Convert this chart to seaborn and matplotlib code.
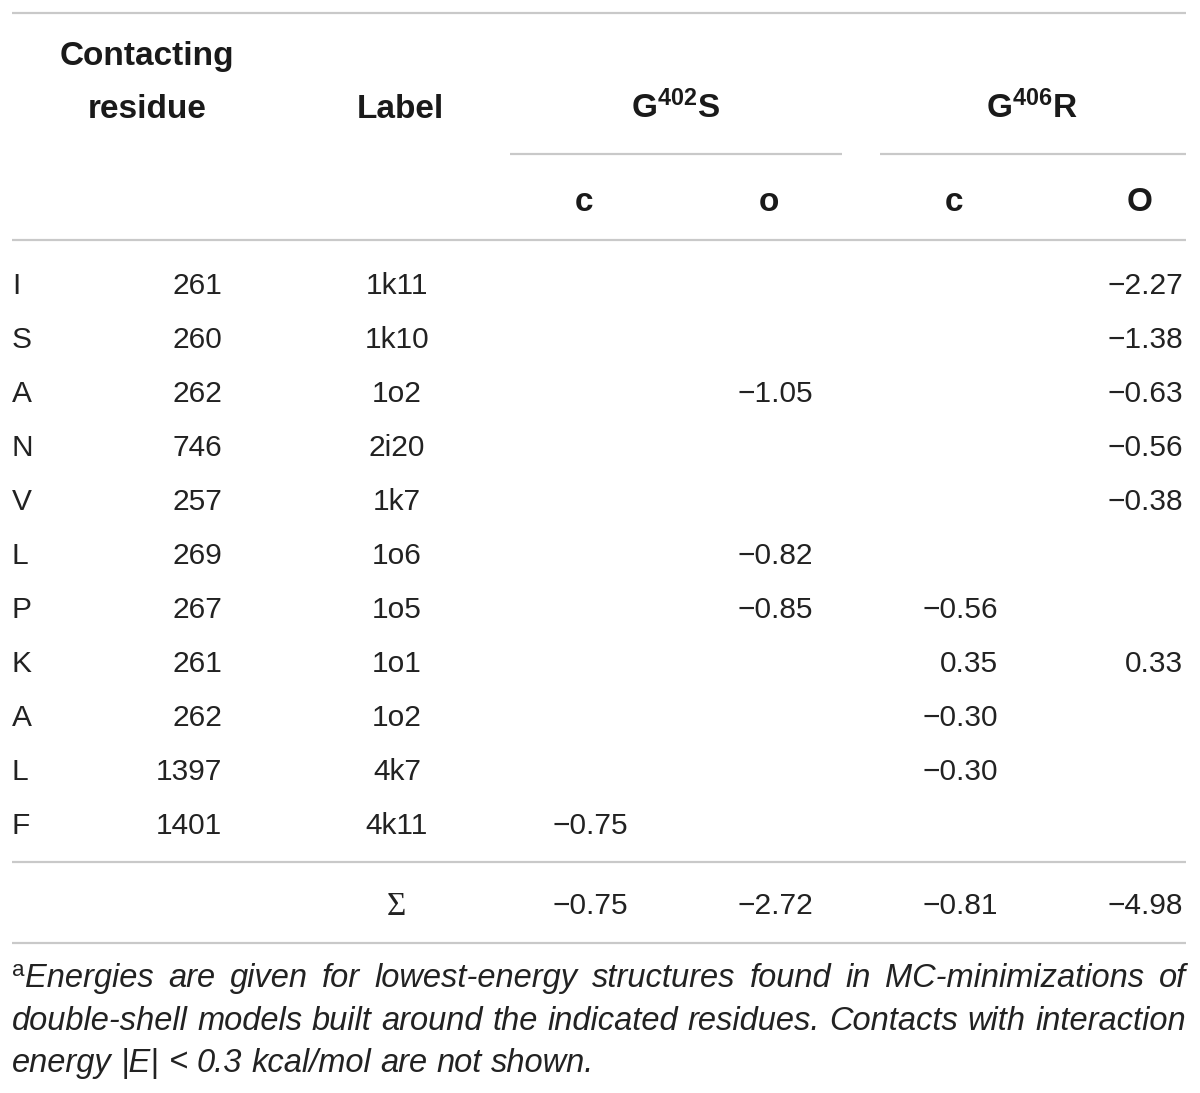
import matplotlib
matplotlib.use("Agg")
import matplotlib.pyplot as plt
import seaborn as sns
import pandas as pd

# table content
residues = ["I", "S", "A", "N", "V", "L", "P", "K", "A", "L", "F"]
positions = [261, 260, 262, 746, 257, 269, 267, 261, 262, 1397, 1401]
labels = ["1k11", "1k10", "1o2", "2i20", "1k7", "1o6", "1o5", "1o1", "1o2", "4k7", "4k11"]
g402s_c = [None, None, None, None, None, None, None, None, None, None, -0.75]
g402s_o = [None, None, -1.05, None, None, -0.82, -0.85, None, None, None, None]
g406r_c = [None, None, None, None, None, None, -0.56, 0.35, -0.30, -0.30, None]
g406r_o = [-2.27, -1.38, -0.63, -0.56, -0.38, None, None, 0.33, None, None, None]
sums = [-0.75, -2.72, -0.81, -4.98]
sub_headers = ["c", "o", "c", "O"]
footnote = [
    "Energies are given for lowest-energy structures found in MC-minimizations of",
    "double-shell models built around the indicated residues. Contacts with interaction",
    "energy |E| < 0.3 kcal/mol are not shown.",
]

df = pd.DataFrame({
    "res": residues, "pos": positions, "label": labels,
    "g402s_c": g402s_c, "g402s_o": g402s_o,
    "g406r_c": g406r_c, "g406r_o": g406r_o,
})

sns.set_theme(style="white")
plt.rcParams["font.family"] = ["Liberation Sans", "DejaVu Sans"]
plt.rcParams["mathtext.fontset"] = "custom"
plt.rcParams["mathtext.bf"] = "Liberation Sans:bold"
plt.rcParams["mathtext.rm"] = "Liberation Sans"

fig = plt.figure(figsize=(12, 10.93), dpi=100)
ax = fig.add_axes([0, 0, 1, 1])
ax.set_xlim(0, 1200)
ax.set_ylim(1093, 0)
ax.axis("off")

ink = "#222222"
rule = "#c9c9c9"
body = 21.5
head = 24


def fmt(v):
    if v is None or pd.isna(v):
        return ""
    s = f"{abs(v):.2f}"
    return ("\u2212" + s) if v < 0 else s


# rules
ax.hlines([13, 240, 862, 943], 12, 1186, color=rule, lw=1.6)
ax.hlines(154, 510, 842, color=rule, lw=1.6)
ax.hlines(154, 880, 1186, color=rule, lw=1.6)

# header
hd = dict(fontsize=head, fontweight="bold", color="#1a1a1a", va="baseline", ha="center")
ax.text(147, 65, "Contacting", **hd)
ax.text(147, 118, "residue", **hd)
ax.text(400, 118, "Label", **hd)
ax.text(676, 118, r"$\mathbf{G^{402}S}$", **hd)
ax.text(1032, 118, r"$\mathbf{G^{406}R}$", **hd)
for x, s in zip([584, 769, 954, 1140], sub_headers):
    ax.text(x, 211, s, **hd)

# body rows
value_cols = ["g402s_c", "g402s_o", "g406r_c", "g406r_o"]
value_right = [628, 813, 998, 1183]
bd = dict(fontsize=body, color=ink, va="baseline")
for i, row in df.iterrows():
    y = 294 + 54 * i
    ax.text(12, y, row["res"], ha="left", **bd)
    ax.text(222, y, str(row["pos"]), ha="right", **bd)
    ax.text(397, y, row["label"], ha="center", **bd)
    for col, xr in zip(value_cols, value_right):
        ax.text(xr, y, fmt(row[col]), ha="right", **bd)

# sum row
ax.text(396, 915, "\u03a3", ha="center", family="Liberation Serif",
        fontsize=24, color=ink, va="baseline")
for v, xr in zip(sums, value_right):
    ax.text(xr, 914, fmt(v), ha="right", **bd)

# footnote, justified
fn = dict(fontsize=23.5, style="italic", color=ink, va="baseline")
sup = ax.text(12, 976, "a", fontsize=16, color=ink, va="baseline")
fig.canvas.draw()
renderer = fig.canvas.get_renderer()
sup_w = sup.get_window_extent(renderer).width


def justify(line, y, x0, x1, stretch=True):
    words = line.split(" ")
    texts = [ax.text(x0, y, w, ha="left", **fn) for w in words]
    widths = [t.get_window_extent(renderer).width for t in texts]
    if stretch:
        gap = (x1 - x0 - sum(widths)) / (len(words) - 1)
    else:
        gap = 0.278 * fn["fontsize"] * 100 / 72
    x = x0
    for t, w in zip(texts, widths):
        t.set_x(x)
        x += w + gap


justify(footnote[0], 987, 12 + sup_w + 1, 1186)
justify(footnote[1], 1030, 12, 1186)
justify(footnote[2], 1072, 12, 1186, stretch=False)

fig.savefig("out.png", dpi=100)
